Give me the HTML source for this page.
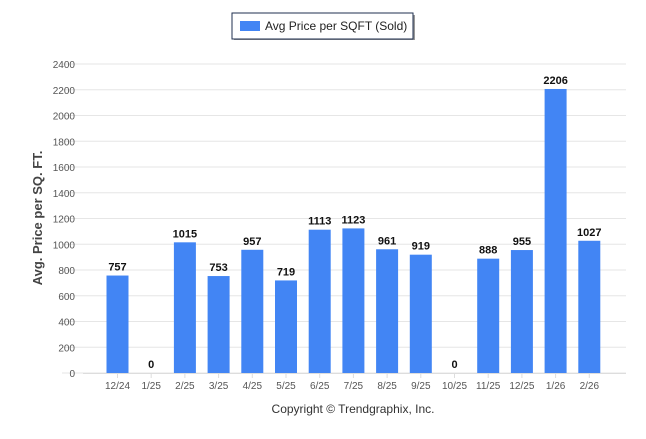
<!DOCTYPE html>
<html><head><meta charset="utf-8"><style>
body{margin:0;background:#fff;font-family:"Liberation Sans",sans-serif}
</style></head><body>
<svg width="646" height="434" viewBox="0 0 646 434">
<g>
<rect x="234" y="15" width="181" height="25" fill="#333" opacity="0.5"/>
<rect x="232" y="13" width="181" height="26" fill="#fff" stroke="#1f2f4f" stroke-width="1"/>
<rect x="240" y="21" width="20" height="10" fill="#4285f4"/>
<text x="265" y="30" font-size="12" fill="#222">Avg Price per SQFT (Sold)</text>
</g>
<g id="grid"></g>
<g id="bars"></g>
<text transform="translate(42,218) rotate(-90)" text-anchor="middle" font-size="13" font-weight="bold" fill="#444">Avg. Price per SQ. FT.</text>
<text x="353" y="413" text-anchor="middle" font-size="12" fill="#333">Copyright © Trendgraphix, Inc.</text>
</svg>
<script>
const categories=["12/24","1/25","2/25","3/25","4/25","5/25","6/25","7/25","8/25","9/25","10/25","11/25","12/25","1/26","2/26"];
const values=[757,0,1015,753,957,719,1113,1123,961,919,0,888,955,2206,1027];
const yTicks=[0,200,400,600,800,1000,1200,1400,1600,1800,2000,2200,2400];
const NS="http://www.w3.org/2000/svg";
const y=v=>373-v*(373-64)/2400;
const x=i=>117.5+i*33.7;
function mk(t,a,p){const e=document.createElementNS(NS,t);for(const k in a)e.setAttribute(k,a[k]);p.appendChild(e);return e;}
const g=document.getElementById('grid'),b=document.getElementById('bars');
yTicks.forEach(v=>{
 const l=mk('line',{x1:62,x2:626,y1:y(v),y2:y(v),stroke:'#e6e6e6'},g);
 
 
 const t=mk('text',{x:75,y:y(v)+4,'text-anchor':'end','font-size':10,fill:'#555'},g);
 t.textContent=v;
 
 
});
mk('line',{x1:83,x2:626,y1:373.5,y2:373.5,stroke:'#ddd'},g);
categories.forEach((c,i)=>{
 const cx=x(i);
 const tk=mk('line',{x1:cx,x2:cx,y1:373,y2:378,stroke:'#ddd'},g);
 const r=mk('rect',{x:cx-11,y:y(values[i]),width:22,height:373-y(values[i]),fill:'#4285f4'},b);
 
 
 const vl=mk('text',{x:cx,y:y(values[i])-5,'text-anchor':'middle','font-size':11,'font-weight':'bold',fill:'#111'},b);
 vl.textContent=values[i];
 
 
 const xl=mk('text',{x:cx,y:389,'text-anchor':'middle','font-size':10,fill:'#555'},b);
 xl.textContent=c;
 
 
});
</script>
</body></html>
